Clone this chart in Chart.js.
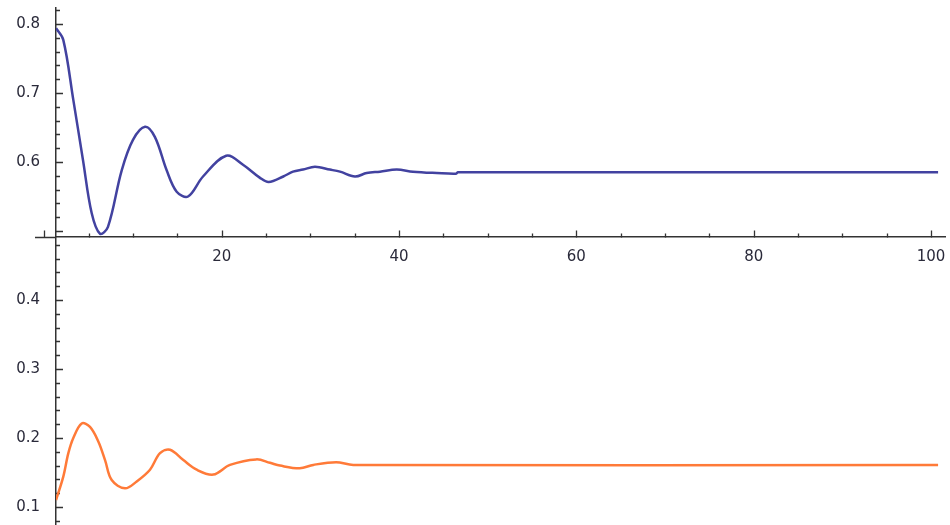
<!DOCTYPE html>
<html>
<head>
<meta charset="utf-8">
<script src="https://cdn.jsdelivr.net/npm/chart.js@4/dist/chart.umd.min.js"></script>
<style>
  html, body { margin: 0; padding: 0; background: #ffffff; }
  #wrap { width: 950px; height: 525px; }
</style>
</head>
<body>
<div id="wrap"><canvas id="chart" width="950" height="525"></canvas></div>
<script>
// Damped response of the two state variables over time
const upperT = [1.31, 2.13, 3.26, 4.35, 5.33, 6.27, 7.17, 8.72, 9.99, 11.35, 12.47, 13.79, 14.92, 16.2,
  17.89, 20.5, 22.4, 24.32, 25.3, 26.95, 28.04, 29.17, 30.52, 32.2, 33.34, 35.03,
  36.35, 37.85, 39.74, 41.57, 44.25, 46.4, 46.65, 100.8];
const upperValues = [0.794, 0.777, 0.690, 0.603, 0.526, 0.496, 0.506, 0.588, 0.632, 0.651, 0.636, 0.588,
  0.557, 0.550, 0.579, 0.609, 0.596, 0.577, 0.571, 0.579, 0.586, 0.589, 0.593, 0.589,
  0.586, 0.579, 0.584, 0.586, 0.589, 0.586, 0.584, 0.583, 0.585, 0.585];

const lowerT = [1.31, 2.13, 2.70, 3.26, 4.21, 5.14, 6.08, 6.84, 7.59, 9.09, 10.41, 11.91, 13.04, 14.17,
  15.67, 17.18, 19.05, 20.93, 23.9, 25.45, 26.57, 28.8, 30.33, 32.9, 34.84, 100.8];
const lowerValues = [0.110, 0.144, 0.178, 0.200, 0.221, 0.216, 0.195, 0.168, 0.139, 0.127, 0.137, 0.154,
  0.178, 0.183, 0.168, 0.154, 0.147, 0.161, 0.169, 0.164, 0.160, 0.156, 0.161, 0.165, 0.161, 0.161];

// Axis ticks
const xTickLabels = [20, 40, 60, 80, 100];
const yTickLabels = [0.1, 0.2, 0.3, 0.4, 0.6, 0.7, 0.8];
const xMajorTicks = [0, 20, 40, 60, 80, 100];
const xMinorTicks = [5, 10, 15, 25, 30, 35, 45, 50, 55, 65, 70, 75, 85, 90, 95];
const yMajorTicks = [0.1, 0.2, 0.3, 0.4, 0.5, 0.6, 0.7, 0.8];
const yMinorTicks = [0.08, 0.12, 0.14, 0.16, 0.18, 0.22, 0.24, 0.26, 0.28, 0.32, 0.34, 0.36, 0.38,
  0.42, 0.44, 0.46, 0.48, 0.52, 0.54, 0.56, 0.58, 0.62, 0.64, 0.66, 0.68, 0.72, 0.74, 0.76, 0.78, 0.82];

const X_MIN = 1.308, X_MAX = 101.58;  // the vertical axis sits at X_MIN
const X_AXIS_START = -1.06;           // horizontal axis runs a little left of the vertical one
const Y_MIN = 0.0739, Y_MAX = 0.8232;
const X_AXIS_AT = 0.491;              // height where the horizontal axis crosses

const AXIS_COLOR = '#333333';
const LABEL_COLOR = '#2a2a3a';
const LABEL_FONT = { family: 'DejaVu Sans', size: 15 };

const toPoints = (xs, ys) => xs.map((x, i) => ({ x, y: ys[i] }));

function zeroPadding(scale) {
  scale.paddingLeft = 0; scale.paddingRight = 0;
  scale.paddingTop = 0; scale.paddingBottom = 0;
}

// Axis stub left of the vertical axis, plus minor and major tick marks
const tickMarks = {
  id: 'tickMarks',
  beforeDatasetsDraw(chart) {
    const { ctx, scales: { x, y } } = chart;
    const axisY = Math.round(y.getPixelForValue(X_AXIS_AT)) + 0.5;
    const axisX = x.getPixelForValue(X_MIN);
    ctx.save();
    ctx.strokeStyle = AXIS_COLOR;
    ctx.lineWidth = 1.5;
    ctx.beginPath();
    ctx.moveTo(x.getPixelForValue(X_AXIS_START), axisY);
    ctx.lineTo(axisX, axisY);
    ctx.stroke();
    ctx.lineWidth = 1.3;
    ctx.beginPath();
    const xt = (list, len) => list.forEach(v => {
      const p = Math.round(x.getPixelForValue(v)) + 0.5;
      ctx.moveTo(p, axisY); ctx.lineTo(p, axisY - len);
    });
    const yt = (list, len) => list.forEach(v => {
      const p = Math.round(y.getPixelForValue(v)) + 0.5;
      ctx.moveTo(axisX, p); ctx.lineTo(axisX + len, p);
    });
    xt(xMajorTicks, 7); xt(xMinorTicks, 4);
    yt(yMajorTicks, 7); yt(yMinorTicks, 4);
    ctx.stroke();
    ctx.restore();
  }
};

new Chart(document.getElementById('chart'), {
  type: 'line',
  data: {
    datasets: [
      {
        data: toPoints(upperT, upperValues),
        borderColor: '#4242a0',
        borderWidth: 2.5,
        pointRadius: 0,
        tension: 0.35,
        fill: false
      },
      {
        data: toPoints(lowerT, lowerValues),
        borderColor: '#ff7a38',
        borderWidth: 2.5,
        pointRadius: 0,
        tension: 0.35,
        fill: false
      }
    ]
  },
  options: {
    responsive: false,
    animation: false,
    devicePixelRatio: 1,
    layout: { padding: { left: 0, right: 5, top: 8, bottom: 0 } },
    plugins: { legend: { display: false }, tooltip: { enabled: false } },
    scales: {
      x: {
        type: 'linear',
        min: X_MIN,
        max: X_MAX,
        position: { y: X_AXIS_AT },
        grid: { display: false, drawTicks: false },
        border: { display: true, color: AXIS_COLOR, width: 1.5 },
        ticks: {
          padding: 11,
          color: LABEL_COLOR,
          font: LABEL_FONT,
          maxRotation: 0,
          callback: v => String(v)
        },
        afterBuildTicks: s => { s.ticks = xTickLabels.map(v => ({ value: v })); },
        afterFit: zeroPadding
      },
      y: {
        type: 'linear',
        min: Y_MIN,
        max: Y_MAX,
        position: 'left',
        grid: { display: false, drawTicks: false },
        border: { display: true, color: AXIS_COLOR, width: 1.5 },
        ticks: {
          padding: 16,
          color: LABEL_COLOR,
          font: LABEL_FONT,
          callback: v => v.toFixed(1)
        },
        afterBuildTicks: s => { s.ticks = yTickLabels.map(v => ({ value: v })); },
        afterFit: s => { zeroPadding(s); s.width = 56; }
      }
    }
  },
  plugins: [tickMarks]
});
</script>
</body>
</html>
